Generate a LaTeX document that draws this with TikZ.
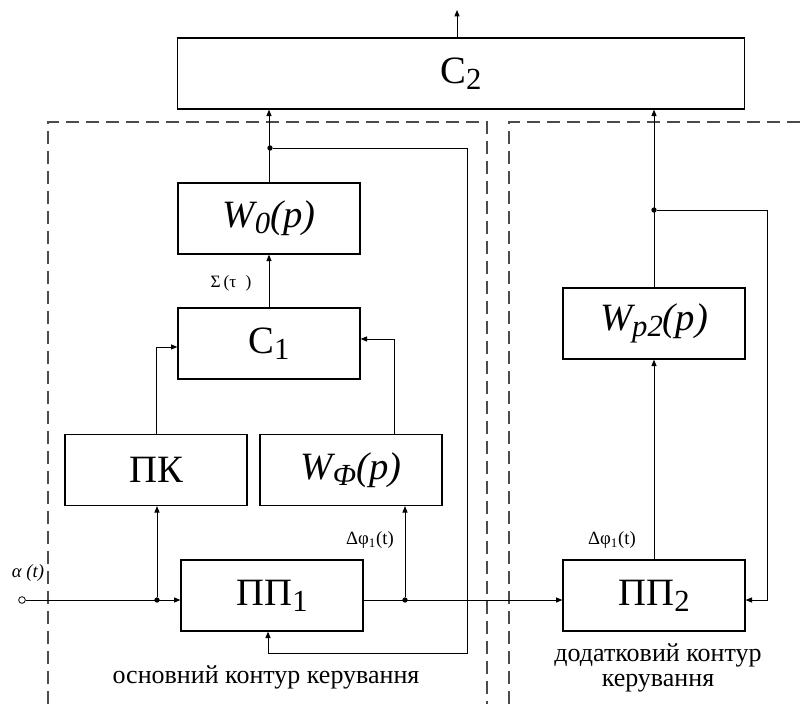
\documentclass[tikz,border=0pt]{standalone}
\usepackage{fontspec}
\setmainfont{Liberation Serif}
\usetikzlibrary{positioning, arrows.meta, calc}
\newcommand{\idx}[1]{\raisebox{-4.5pt}{\fontsize{23}{23}\selectfont #1}}

\begin{document}
\begin{tikzpicture}[
    x=0.75pt, y=-0.75pt,
    >={Triangle[length=4.8pt, width=3.8pt]},
    block/.style={draw, rectangle, line width=0.9pt, minimum width=136.5pt, minimum height=53.3pt, inner sep=0pt, font=\fontsize{29}{32}\selectfont},
    sig/.style={font=\fontsize{14}{16}\selectfont, inner sep=1pt},
    capt/.style={font=\fontsize{19.5}{19}\selectfont, align=center},
    link/.style={->, line width=0.7pt},
    zone/.style={dash pattern=on 10pt off 5pt, line width=0.8pt, black!70},
    junc/.style={circle, fill, inner sep=0pt, minimum size=4pt},
    term/.style={circle, draw, fill=white, line width=0.6pt, inner sep=0pt, minimum size=5pt}
]
\useasboundingbox (0,0) rectangle (800,704);

% ==========================================
% Control loop zones
% ==========================================
\draw[zone] (48,704) -- (48,122) -- (487,122) -- (487,704);
\draw[zone] (509,704) -- (509,122) -- (800,122);

% ==========================================
% Blocks
% ==========================================
\node[block, minimum width=425.6pt] (C2) at (461,73.5) {С\idx{2}};
\node[block] (W0) at (269,218.5) {\itshape W\idx{0}(p)};
\node[block] (C1) at (269,343.5) {С\idx{1}};
\node[block] (PK) at (156,470) {ПК};
\node[block] (WF) at (351,470) {\itshape W\idx{Φ}(p)};
\node[block] (PP1) at (272,595.5) {ПП\idx{1}};
\node[block] (Wp2) at (654,323.5) {\itshape W\idx{p2}(p)};
\node[block] (PP2) at (654,595.5) {ПП\idx{2}};

% Terminals, junctions and corners
\node[term] (in) at (22,600) {};
\node[junc] (j1) at (157,600) {};
\node[junc] (j2) at (405,600) {};
\node[junc] (j3) at (270,148) {};
\node[junc] (j4) at (654,210) {};
\coordinate (out) at (457,10);
\coordinate (fb1) at (467,653);
\coordinate (fb2) at (767,600);

% ==========================================
% Main loop
% ==========================================
\draw[link] (in) -- (PP1.west |- in);
\draw[link] (j1) -- (j1 |- PK.south);
\draw[link] (j2) -- (j2 |- WF.south);
\draw[link] (PK.north) |- ([yshift=-2.6pt]C1.west);
\draw[link] ([xshift=32.3pt]WF.north) |- ([yshift=3.4pt]C1.east);
\draw[link] (C1.north) -- (W0.south);
\draw[link] (W0.north) -- (W0.north |- C2.south);
\draw[link] (j3) -| (fb1) -| ([xshift=-3pt]PP1.south);
\draw[link] (PP1.east |- in) -- (PP2.west |- in);

% ==========================================
% Additional loop
% ==========================================
\draw[link] (PP2.north) -- (Wp2.south);
\draw[link] (Wp2.north) -- (Wp2.north |- C2.south);
\draw[link] (j4) -| (fb2) -- (PP2.east |- fb2);
\draw[link] (out |- C2.north) -- (out);

% Signal labels
\node[sig, font=\fontsize{13}{15}\selectfont] (sigma) at (231,283) {Σ\,(τ\hspace{7pt})};
\node[sig] (dphi1) at (370,540) {Δφ\textsubscript{1}(t)};
\node[sig] (dphi2) at (612,540) {Δφ\textsubscript{1}(t)};
\node[sig, font=\fontsize{14}{16}\selectfont\itshape] (alpha) at (28,573) {α (t)};

% Captions
\node[capt] (main) at (266,677) {основний контур керування};
\node[capt] (extra) at (658,668) {додатковий контур\\керування};

\end{tikzpicture}
\end{document}
